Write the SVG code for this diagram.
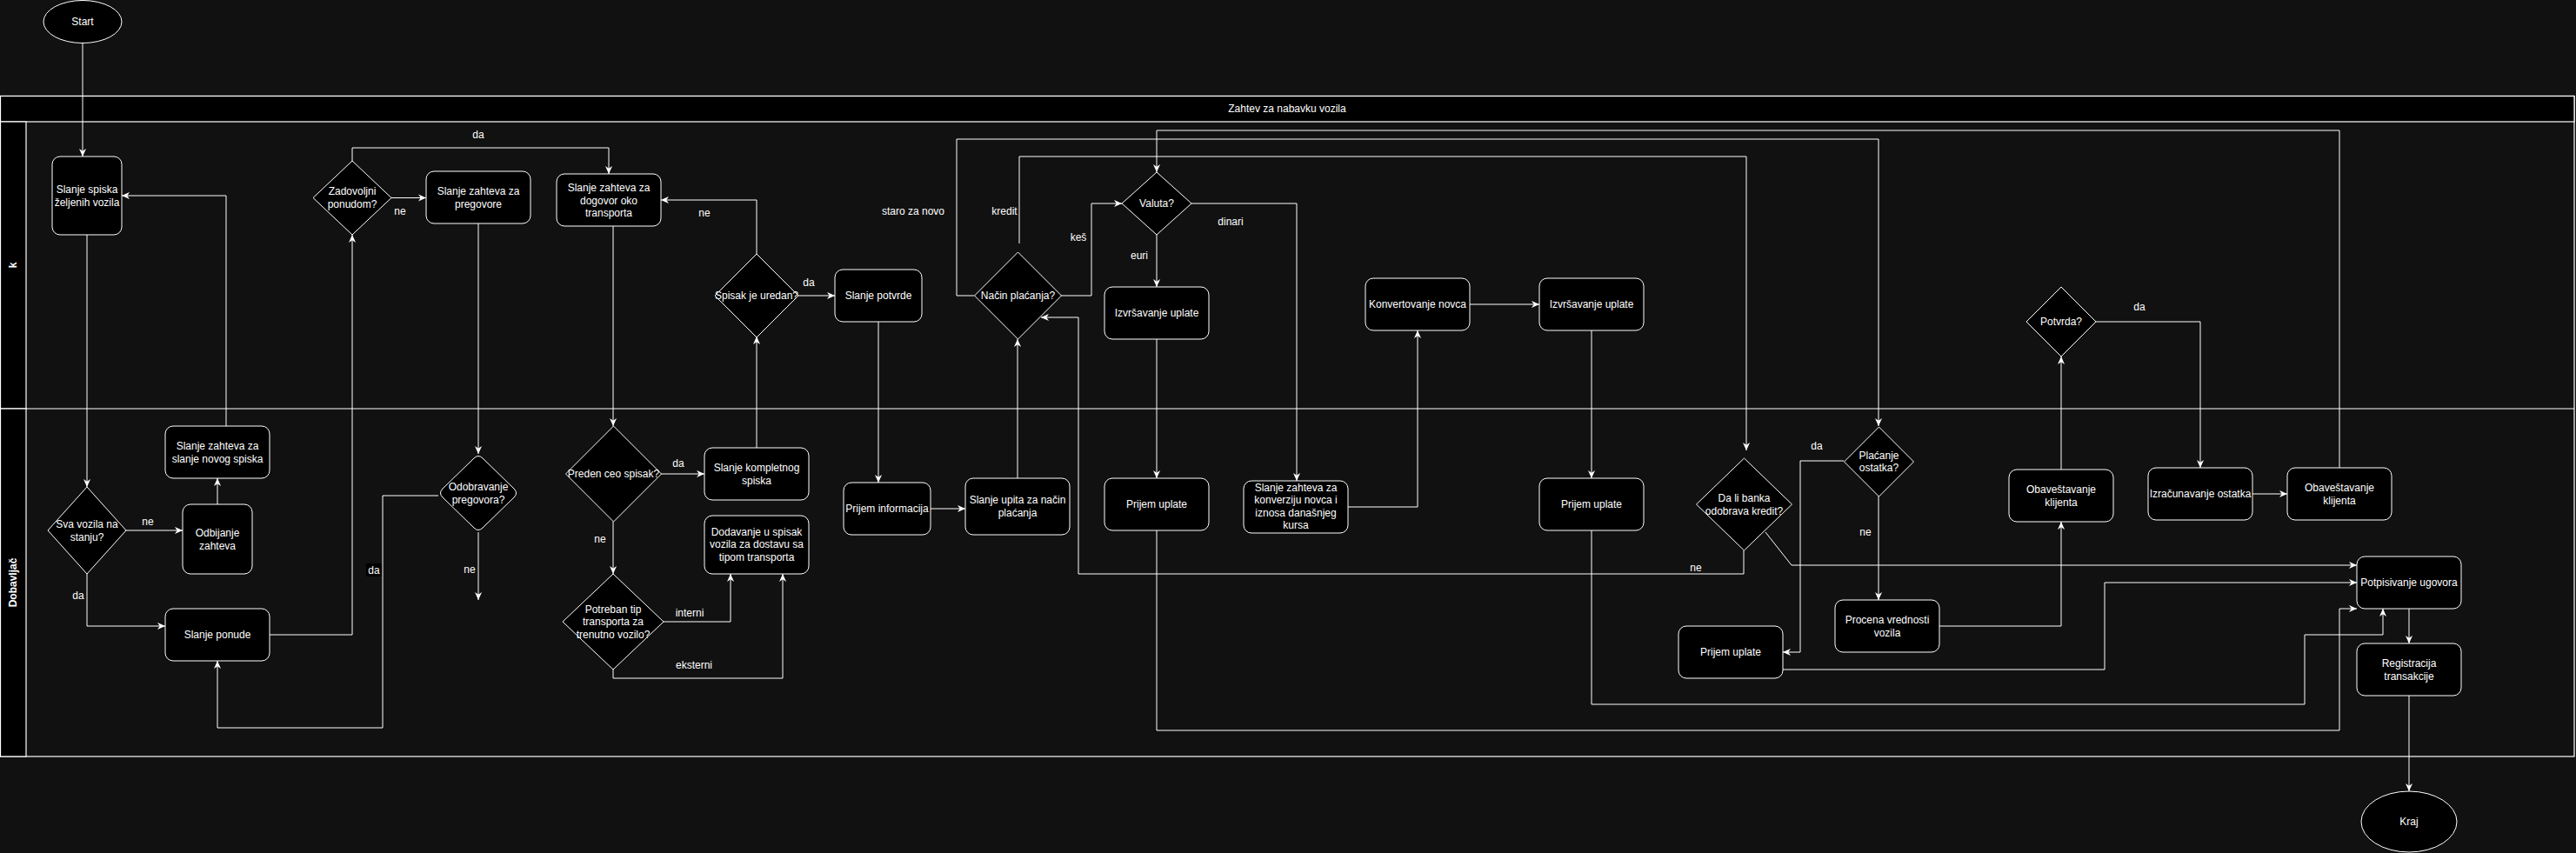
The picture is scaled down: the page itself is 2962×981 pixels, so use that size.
<svg xmlns="http://www.w3.org/2000/svg" width="2962" height="981" viewBox="0 0 2962 981">
<defs>
<marker id="arr" viewBox="0 0 10 10" refX="10" refY="5" markerWidth="9" markerHeight="9" markerUnits="userSpaceOnUse" orient="auto">
<path d="M0,0.5 L10,5 L0,9.5 L3,5 Z" fill="#ffffff"/>
</marker>
</defs>
<style>
.bg{fill:#111111}
.pool{fill:none;stroke:#ffffff;stroke-width:1.2}
.hdr{fill:#000000;stroke:#ffffff;stroke-width:1.2}
.box{fill:#000000;stroke:#ffffff;stroke-width:1}
.e{fill:none;stroke:#ffffff;stroke-width:1}
.ea{fill:none;stroke:#ffffff;stroke-width:1;marker-end:url(#arr)}
text{font-family:"Liberation Sans",Arial,Helvetica,sans-serif;fill:#ffffff;text-anchor:middle}
.t{font-size:12px}
.l{font-size:12px}
.h{font-size:12px;font-weight:bold}
</style>
<rect class="bg" x="0" y="0" width="2962" height="981"/>

<g id="pool">
<rect class="pool" x="0.5" y="110.5" width="2959.5" height="759.5"/>
<rect class="hdr" x="0.5" y="110.5" width="2959.5" height="29.5"/>
<text class="t" x="1480" y="129">Zahtev za nabavku vozila</text>
<line class="pool" x1="0.5" y1="470" x2="2960" y2="470"/>
<rect class="hdr" x="0.5" y="140" width="29.5" height="330"/>
<rect class="hdr" x="0.5" y="470" width="29.5" height="400"/>
<text class="h" transform="translate(19,305) rotate(-90)">k</text>
<text class="h" transform="translate(19,670) rotate(-90)">Dobavljač</text>
</g>

<g id="connectors">
<polyline class="ea" points="95,50 95,180"/>
<polyline class="ea" points="100,270 100,560"/>
<polyline class="ea" points="145,610 210,610"/>
<polyline class="ea" points="100,660 100,720 190,720"/>
<polyline class="ea" points="250,580 250,550"/>
<polyline class="ea" points="260,490 260,225 140,225"/>
<polyline class="ea" points="310,730 405,730 405,270"/>
<polyline class="ea" points="450,227.5 490,227.5"/>
<polyline class="ea" points="405,185 405,170 700,170 700,200"/>
<polyline class="ea" points="550,257 550,522"/>
<polyline class="ea" points="550,612 550,690"/>
<polyline class="ea" points="504,570 440,570 440,837 250,837 250,760"/>
<polyline class="ea" points="705,260 705,490"/>
<polyline class="ea" points="760,545 810,545"/>
<polyline class="ea" points="705,600 705,660"/>
<polyline class="ea" points="763,715 840,715 840,660"/>
<polyline class="ea" points="705,770 705,780 900,780 900,660"/>
<polyline class="ea" points="870,515 870,387"/>
<polyline class="ea" points="870,293 870,230 760,230"/>
<polyline class="ea" points="918,340 960,340"/>
<polyline class="ea" points="1010,370 1010,555"/>
<polyline class="ea" points="1070,585 1110,585"/>
<polyline class="ea" points="1170,550 1170,390"/>
<polyline class="ea" points="1220,340 1255,340 1255,234 1290,234"/>
<polyline class="ea" points="1120,340 1100,340 1100,160 2160,160 2160,490"/>
<polyline class="ea" points="1172,280 1172,180 2008,180 2008,518"/>
<polyline class="ea" points="1330,270 1330,330"/>
<polyline class="ea" points="1370,234 1491,234 1491,553"/>
<polyline class="ea" points="1330,390 1330,550"/>
<polyline class="ea" points="1550,583 1630,583 1630,380"/>
<polyline class="ea" points="1690,350 1770,350"/>
<polyline class="ea" points="1830,380 1830,550"/>
<polyline class="ea" points="1330,610 1330,840 2690,840 2690,700 2710,700"/>
<polyline class="ea" points="1830,610 1830,810 2650,810 2650,730 2740,730 2740,700"/>
<polyline class="ea" points="2005,633 2005,660 1240,660 1240,365 1197,365"/>
<polyline class="ea" points="2030,612 2060,650 2710,650"/>
<polyline class="ea" points="2120,530 2070,530 2070,750 2050,750"/>
<polyline class="ea" points="2160,570 2160,690"/>
<polyline class="ea" points="2050,770 2420,770 2420,670 2710,670"/>
<polyline class="ea" points="2230,720 2370,720 2370,600"/>
<polyline class="ea" points="2370,540 2370,410"/>
<polyline class="ea" points="2410,370 2530,370 2530,538"/>
<polyline class="ea" points="2590,568 2630,568"/>
<polyline class="ea" points="2690,538 2690,150 1330,150 1330,198"/>
<polyline class="ea" points="2770,700 2770,740"/>
<polyline class="ea" points="2770,800 2770,910"/>
</g>

<g id="edge-labels">
<text class="l" x="550" y="159">da</text>
<text class="l" x="460" y="247">ne</text>
<text class="l" x="810" y="249">ne</text>
<text class="l" x="930" y="329">da</text>
<text class="l" x="1050" y="247">staro za novo</text>
<text class="l" x="1155" y="247">kredit</text>
<text class="l" x="1240" y="277">keš</text>
<text class="l" x="1310" y="298">euri</text>
<text class="l" x="1415" y="259">dinari</text>
<text class="l" x="2460" y="357">da</text>
<text class="l" x="170" y="604">ne</text>
<text class="l" x="90" y="689">da</text>
<rect x="421" y="648" width="18" height="15" fill="#000000"/>
<text class="l" x="430" y="660">da</text>
<text class="l" x="540" y="659">ne</text>
<text class="l" x="780" y="537">da</text>
<text class="l" x="690" y="624">ne</text>
<text class="l" x="793" y="709">interni</text>
<text class="l" x="798" y="769">eksterni</text>
<text class="l" x="1950" y="657">ne</text>
<text class="l" x="2089" y="517">da</text>
<text class="l" x="2145" y="616">ne</text>
</g>

<g id="start"><ellipse class="box" cx="95" cy="25" rx="45" ry="24.5"/><text class="t" x="95" y="29">Start</text></g>
<g id="kraj"><ellipse class="box" cx="2770" cy="945" rx="55" ry="35"/><text class="t" x="2770" y="949">Kraj</text></g>

<g id="n-slanje-spiska"><rect class="box" x="60" y="180" width="80" height="90" rx="9"/><text class="t" x="100" y="222">Slanje spiska</text><text class="t" x="100" y="236.5">željenih vozila</text></g>
<g id="n-zadovoljni"><polygon class="box" points="405,185 450,227.5 405,270 360,227.5"/><text class="t" x="405" y="224">Zadovoljni</text><text class="t" x="405" y="238.5">ponudom?</text></g>
<g id="n-pregovore"><rect class="box" x="490" y="197" width="120" height="60" rx="9"/><text class="t" x="550" y="224">Slanje zahteva za</text><text class="t" x="550" y="238.5">pregovore</text></g>
<g id="n-dogovor"><rect class="box" x="640" y="200" width="120" height="60" rx="9"/><text class="t" x="700" y="220">Slanje zahteva za</text><text class="t" x="700" y="234.5">dogovor oko</text><text class="t" x="700" y="249">transporta</text></g>
<g id="n-spisak-uredan"><polygon class="box" points="870,292 918,340 870,388 822,340"/><text class="t" x="870" y="344">Spisak je uredan?</text></g>
<g id="n-potvrde"><rect class="box" x="960" y="310" width="100" height="60" rx="9"/><text class="t" x="1010" y="344">Slanje potvrde</text></g>
<g id="n-nacin"><polygon class="box" points="1170.5,290 1220.5,340 1170.5,390 1120.5,340"/><text class="t" x="1170.5" y="344">Način plaćanja?</text></g>
<g id="n-valuta"><polygon class="box" points="1330,198 1370,234 1330,270 1290,234"/><text class="t" x="1330" y="238">Valuta?</text></g>
<g id="n-izvrsavanje1"><rect class="box" x="1270" y="330" width="120" height="60" rx="9"/><text class="t" x="1330" y="364">Izvršavanje uplate</text></g>
<g id="n-konvertovanje"><rect class="box" x="1570" y="320" width="120" height="60" rx="9"/><text class="t" x="1630" y="354">Konvertovanje novca</text></g>
<g id="n-izvrsavanje2"><rect class="box" x="1770" y="320" width="120" height="60" rx="9"/><text class="t" x="1830" y="354">Izvršavanje uplate</text></g>
<g id="n-potvrda"><polygon class="box" points="2370,330 2410,370 2370,410 2330,370"/><text class="t" x="2370" y="374">Potvrda?</text></g>

<g id="n-sva-vozila"><polygon class="box" points="100,560 145,610 100,660 55,610"/><text class="t" x="100" y="607">Sva vozila na</text><text class="t" x="100" y="621.5">stanju?</text></g>
<g id="n-novog-spiska"><rect class="box" x="190" y="490" width="120" height="60" rx="9"/><text class="t" x="250" y="517">Slanje zahteva za</text><text class="t" x="250" y="531.5">slanje novog spiska</text></g>
<g id="n-odbijanje"><rect class="box" x="210" y="580" width="80" height="80" rx="9"/><text class="t" x="250" y="617">Odbijanje</text><text class="t" x="250" y="631.5">zahteva</text></g>
<g id="n-ponude"><rect class="box" x="190" y="700" width="120" height="60" rx="9"/><text class="t" x="250" y="734">Slanje ponude</text></g>
<g id="n-odobravanje"><path class="box" d="M545,527 Q550,522 555,527 L591,562 Q596,567 591,572 L555,607 Q550,612 545,607 L509,572 Q504,567 509,562 Z"/><text class="t" x="550" y="564">Odobravanje</text><text class="t" x="550" y="578.5">pregovora?</text></g>
<g id="n-preden"><polygon class="box" points="705.5,490 760.5,545 705.5,600 650.5,545"/><text class="t" x="705.5" y="549">Preden ceo spisak?</text></g>
<g id="n-kompletnog"><rect class="box" x="810" y="515" width="120" height="60" rx="9"/><text class="t" x="870" y="542">Slanje kompletnog</text><text class="t" x="870" y="556.5">spiska</text></g>
<g id="n-dodavanje"><rect class="box" x="810" y="593" width="120" height="67" rx="9"/><text class="t" x="870" y="615.5">Dodavanje u spisak</text><text class="t" x="870" y="630">vozila za dostavu sa</text><text class="t" x="870" y="644.5">tipom transporta</text></g>
<g id="n-potreban"><polygon class="box" points="705,660 763,715 705,770 647,715"/><text class="t" x="705" y="704.5">Potreban tip</text><text class="t" x="705" y="719">transporta za</text><text class="t" x="705" y="733.5">trenutno vozilo?</text></g>
<g id="n-prijem-info"><rect class="box" x="970" y="555" width="100" height="60" rx="9"/><text class="t" x="1020" y="589">Prijem informacija</text></g>
<g id="n-upita"><rect class="box" x="1110" y="550" width="120" height="65" rx="9"/><text class="t" x="1170" y="579">Slanje upita za način</text><text class="t" x="1170" y="593.5">plaćanja</text></g>
<g id="n-prijem1"><rect class="box" x="1270" y="550" width="120" height="60" rx="9"/><text class="t" x="1330" y="584">Prijem uplate</text></g>
<g id="n-konverziju"><rect class="box" x="1430" y="553" width="120" height="60" rx="9"/><text class="t" x="1490" y="564.5">Slanje zahteva za</text><text class="t" x="1490" y="579">konverziju novca i</text><text class="t" x="1490" y="593.5">iznosa današnjeg</text><text class="t" x="1490" y="608">kursa</text></g>
<g id="n-prijem2"><rect class="box" x="1770" y="550" width="120" height="60" rx="9"/><text class="t" x="1830" y="584">Prijem uplate</text></g>
<g id="n-banka"><polygon class="box" points="2005.5,527 2060.5,580 2005.5,633 1950.5,580"/><text class="t" x="2005.5" y="577">Da li banka</text><text class="t" x="2005.5" y="591.5">odobrava kredit?</text></g>
<g id="n-placanje"><polygon class="box" points="2160.5,491 2200.5,531 2160.5,571 2120.5,531"/><text class="t" x="2160.5" y="527.5">Plaćanje</text><text class="t" x="2160.5" y="542">ostatka?</text></g>
<g id="n-prijem3"><rect class="box" x="1930" y="720" width="120" height="60" rx="9"/><text class="t" x="1990" y="754">Prijem uplate</text></g>
<g id="n-procena"><rect class="box" x="2110" y="690" width="120" height="60" rx="9"/><text class="t" x="2170" y="717">Procena vrednosti</text><text class="t" x="2170" y="731.5">vozila</text></g>
<g id="n-obav1"><rect class="box" x="2310" y="540" width="120" height="60" rx="9"/><text class="t" x="2370" y="567">Obaveštavanje</text><text class="t" x="2370" y="581.5">klijenta</text></g>
<g id="n-izracunavanje"><rect class="box" x="2470" y="538" width="120" height="60" rx="9"/><text class="t" x="2530" y="572">Izračunavanje ostatka</text></g>
<g id="n-obav2"><rect class="box" x="2630" y="538" width="120" height="60" rx="9"/><text class="t" x="2690" y="565">Obaveštavanje</text><text class="t" x="2690" y="579.5">klijenta</text></g>
<g id="n-potpisivanje"><rect class="box" x="2710" y="640" width="120" height="60" rx="9"/><text class="t" x="2770" y="674">Potpisivanje ugovora</text></g>
<g id="n-registracija"><rect class="box" x="2710" y="740" width="120" height="60" rx="9"/><text class="t" x="2770" y="767">Registracija</text><text class="t" x="2770" y="781.5">transakcije</text></g>
</svg>
